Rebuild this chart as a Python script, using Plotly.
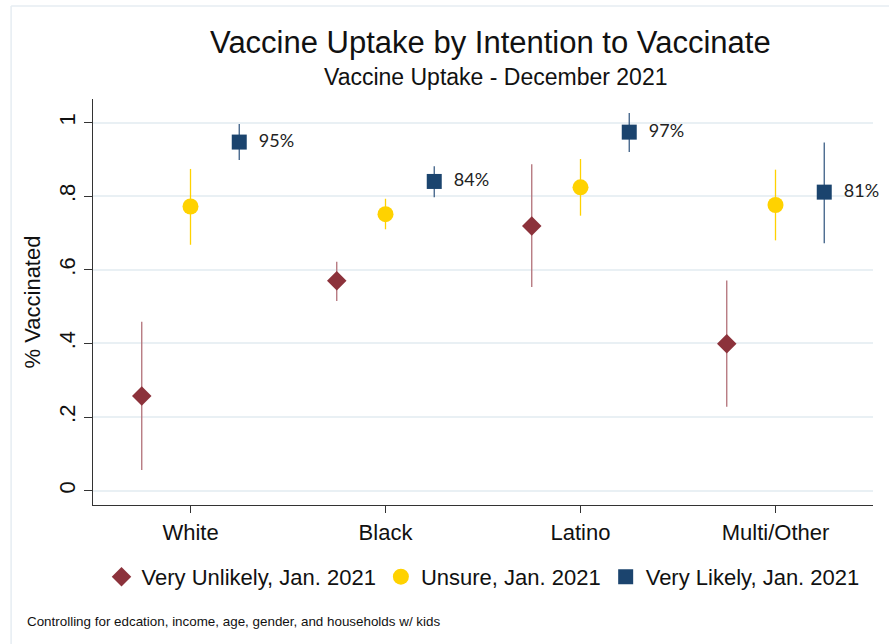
import plotly.graph_objects as go

# Groups along the x axis
groups = ["White", "Black", "Latino", "Multi/Other"]

# Share vaccinated by December 2021, with 95% confidence bounds
very_unlikely = [0.257, 0.570, 0.719, 0.399]
very_unlikely_lo = [0.056, 0.515, 0.553, 0.228]
very_unlikely_hi = [0.459, 0.622, 0.887, 0.571]

unsure = [0.772, 0.751, 0.824, 0.776]
unsure_lo = [0.668, 0.710, 0.747, 0.680]
unsure_hi = [0.874, 0.793, 0.901, 0.872]

very_likely = [0.947, 0.840, 0.974, 0.811]
very_likely_lo = [0.898, 0.797, 0.920, 0.672]
very_likely_hi = [0.996, 0.881, 1.026, 0.946]

y_ticks = [0, 0.2, 0.4, 0.6, 0.8, 1.0]
y_tick_text = ["0", ".2", ".4", ".6", ".8", "1"]

FONT = "Liberation Sans, Arial"

base_x = list(range(1, len(groups) + 1))


def series(name, vals, lo, hi, offset, symbol, size, color, bar_color, labels=None):
    return go.Scatter(
        x=[b + offset for b in base_x],
        y=vals,
        name=name,
        mode="markers+text" if labels else "markers",
        text=labels,
        textposition="middle right",
        textfont=dict(family="Lato, Open Sans", size=18, color="#222222"),
        cliponaxis=False,
        marker=dict(symbol=symbol, size=size, color=color, line=dict(width=0)),
        error_y=dict(
            type="data",
            symmetric=False,
            array=[h - v for h, v in zip(hi, vals)],
            arrayminus=[v - l for l, v in zip(lo, vals)],
            color=bar_color,
            thickness=1.3,
            width=0,
        ),
    )


fig = go.Figure()
fig.add_trace(series("Very Unlikely, Jan. 2021", very_unlikely, very_unlikely_lo,
                     very_unlikely_hi, -0.25, "diamond", 15, "#8c323b", "#b27078"))
fig.add_trace(series("Unsure, Jan. 2021", unsure, unsure_lo, unsure_hi,
                     0.0, "circle", 16, "#ffd200", "#ffd200"))
fig.add_trace(series("Very Likely, Jan. 2021", very_likely, very_likely_lo,
                     very_likely_hi, 0.25, "square", 15, "#1b446e", "#3d5f86",
                     labels=["  " + f"{round(v * 100)}%" for v in very_likely]))

axis_font = dict(family=FONT, size=22, color="#111111")

fig.update_layout(
    width=889,
    height=644,
    margin=dict(l=93, r=16, t=99, b=139),
    paper_bgcolor="white",
    plot_bgcolor="white",
    font=dict(family=FONT, color="#111111"),
    showlegend=True,
    legend=dict(
        orientation="h",
        x=0.5,
        xanchor="center",
        y=-0.177,
        yanchor="middle",
        font=dict(family=FONT, size=22, color="#111111"),
        itemwidth=30,
        tracegroupgap=0,
    ),
    xaxis=dict(
        range=[0.5, 4.5],
        tickvals=base_x,
        ticktext=groups,
        showgrid=False,
        zeroline=False,
        showline=True,
        linecolor="#333333",
        linewidth=1.3,
        ticks="outside",
        ticklen=7,
        tickcolor="#333333",
        tickfont=axis_font,
    ),
    yaxis=dict(
        range=[-0.039, 1.064],
        tickvals=y_ticks,
        ticktext=y_tick_text,
        tickangle=-90,
        showgrid=True,
        gridcolor="#e9f0f4",
        gridwidth=1.5,
        zeroline=False,
        showline=True,
        linecolor="#333333",
        linewidth=1.3,
        ticks="outside",
        ticklen=8,
        tickcolor="#333333",
        tickfont=axis_font,
        title=dict(text="% Vaccinated", font=axis_font, standoff=8),
    ),
    annotations=[
        dict(text="Vaccine Uptake by Intention to Vaccinate", xref="paper", yref="paper",
             x=0.509, y=1.138, xanchor="center", yanchor="middle", showarrow=False,
             font=dict(family=FONT, size=31, color="#111111")),
        dict(text="Vaccine Uptake - December 2021", xref="paper", yref="paper",
             x=0.516, y=1.054, xanchor="center", yanchor="middle", showarrow=False,
             font=dict(family=FONT, size=23, color="#111111")),
        dict(text="Controlling for edcation, income, age, gender, and households w/ kids",
             xref="paper", yref="paper", x=-0.087, y=-0.286, xanchor="left",
             yanchor="middle", showarrow=False,
             font=dict(family=FONT, size=13.4, color="#111111")),
    ],
    shapes=[
        dict(type="line", xref="paper", yref="paper", x0=-0.105, x1=-0.105,
             y0=1.229, y1=-0.35, line=dict(color="#e6edf2", width=1.5)),
        dict(type="line", xref="paper", yref="paper", x0=-0.105, x1=1.05,
             y0=1.229, y1=1.229, line=dict(color="#e6edf2", width=1.5)),
    ],
)

fig.write_html("out.html")
